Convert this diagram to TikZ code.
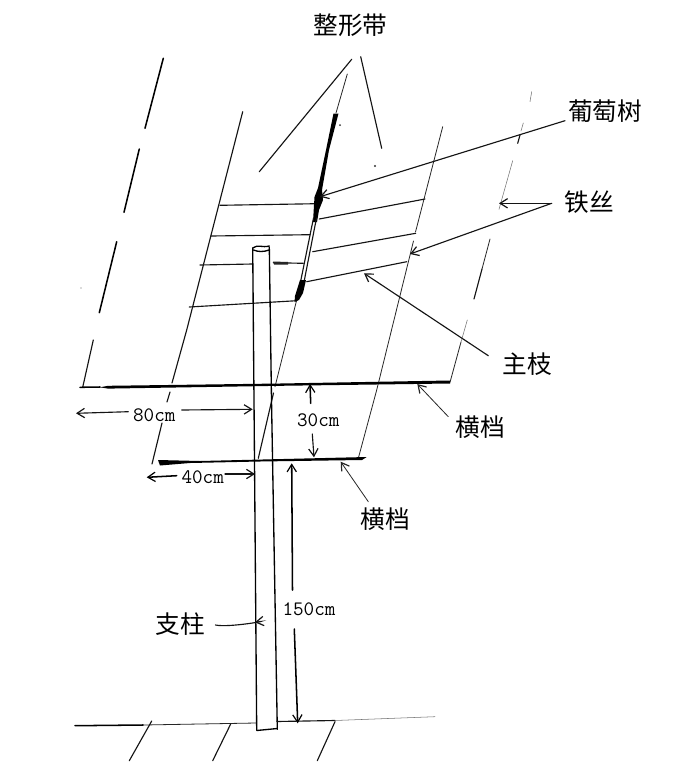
\documentclass[tikz,border=0pt]{standalone}
\usepackage{fontspec}
\newfontfamily\cjk{Noto Sans CJK SC}
\usetikzlibrary{arrows.meta}
\tikzset{
  x=0.75pt,y=-0.75pt,
  ink/.style={draw=black!92,line width=0.85pt,line cap=round},
  thinink/.style={draw=black!85,line width=0.6pt,line cap=round},
  faint/.style={draw=black!55,line width=0.4pt,line cap=round},
  heavy/.style={draw=black,line width=1.15pt,line cap=round},
  postline/.style={draw=black,line width=1pt,line cap=round},
  solid fill/.style={fill=black,draw=none},
  barb/.style={-{Straight Barb[length=5.6pt,width=7pt,line width=0.9pt]}},
  cnlabel/.style={inner sep=0pt,font=\cjk\fontsize{18.5pt}{20pt}\selectfont,text=black},
  dimlabel/.style={inner sep=0pt,font=\ttfamily\fontsize{15.4pt}{16pt}\selectfont,text=black}
}
\begin{document}
\begin{tikzpicture}
\useasboundingbox (0,0) rectangle (674,768);
\fill[white] (0,0) rectangle (674,768);

% labels
\node[cnlabel] (zxd) at (350.5,25) {整形带};
\node[cnlabel] (ptree) at (605,111) {葡萄树};
\node[cnlabel] (wire) at (589,202) {铁丝};
\node[cnlabel] (mainb) at (527,364) {主枝};
\node[cnlabel] (bar1) at (480,427) {横档};
\node[cnlabel] (bar2) at (385,519) {横档};
\node[cnlabel] (post) at (180.5,624) {支柱};
\node[dimlabel] (d80) at (154.3,415) {80cm};
\node[dimlabel] (d40) at (202.7,477) {40cm};
\node[dimlabel] (d30) at (318.3,420.7) {30cm};
\node[dimlabel] (d150) at (309,609) {150cm};

% trellis slanted wires
\draw[heavy] (163.3,58.3) -- (145,128.3);
\draw[heavy] (139.3,149) -- (124,212.3);
\draw[heavy] (116.7,241.7) -- (99.3,312.7);
\draw[ink] (93.3,340) -- (82.7,387.3);

\draw[ink] (242.7,111.7) -- (186.7,330) -- (172,383);
\draw[ink] (170,392) -- (167,402);
\draw[ink] (162,423) -- (152,464);

\draw[thinink] (296.7,300) -- (275,386.7);
\draw[ink] (273.5,393) -- (258.3,458.3);

\draw[thinink] (442.7,126.7) -- (415.5,232);
\draw[thinink] (413.5,241) -- (376.7,390) -- (358.3,458.3);

\draw[faint] (531.7,91.7) -- (530,101.7);
\draw[faint] (523.3,123) -- (521,131);
\draw[ink] (520,135) -- (517.7,143.3);
\draw[faint] (512.7,160.7) -- (499,209.3);
\draw[thinink] (490,239) -- (482,269);
\draw[ink] (482,269) -- (474,299);
\draw[faint] (467.3,320) -- (461,342);
\draw[thinink] (461,342) -- (450,382.3);

% cross wires, left
\draw[ink] (220,205.3) -- (316.7,203.7);
\draw[ink] (211,236) -- (310,234.7);
\draw[ink] (200,265) -- (252.7,264);
\draw[ink] (273.3,262.7) -- (303.3,263.3);
\draw[ink] (189.3,307) -- (296.7,300.7);
\fill[black!85] (273,261.5) -- (288,262) -- (288,264.5) -- (274,264.5) -- cycle;
% cross wires, right
\draw[ink] (319.3,219) -- (425,199);
\draw[ink] (312.7,251.7) -- (415.7,233.3);
\draw[ink] (306.7,281.7) -- (406.7,261.7);

% vine trunk
\draw[thinink] (347.3,74) -- (336,113);
\fill[solid fill] (333.5,113.5) -- (338.5,113.5) -- (329,150) -- (322,190) -- (323,200) -- (319,210) -- (317,222) -- (313,222) -- (314,205) -- (314.5,197) -- (318,188) -- (326,150) -- cycle;
\draw[ink] (316.5,218) -- (304,282);
\draw[ink] (313.5,218) -- (300.5,282);
\fill[solid fill] (300,280) -- (306,280) -- (303,293) -- (299,300) -- (294.5,302) -- (295,296) -- cycle;

% post
\draw[postline] (252.7,248) -- (254,400) -- (256.7,730);
\draw[postline] (269.3,247) -- (271.5,400) -- (277.3,729.3);
\draw[postline] (252.7,248) .. controls (258,244) and (262,248) .. (269.3,246);
\draw[postline] (253.5,250) .. controls (258,252) and (264,252) .. (269,250);
\draw[postline] (256.7,730.5) -- (277.3,728.5);

% cross arms
\draw[heavy] (80,387.3) -- (100,387);
\fill[solid fill] (100,387.3) -- (108,385.8) -- (280,383.5) -- (450,380.5) -- (450,383.5) -- (280,385.8) -- (108,388.6) -- cycle;
\fill[solid fill] (158,460) -- (200,461) -- (366.7,457) -- (362,460) -- (260,461.5) -- (190,463) -- (160,465.5) -- cycle;

% ground
\draw[heavy] (75,725.7) -- (143,725);
\draw[thinink] (143,725) -- (256,723);
\draw[ink] (277,721.5) -- (335,720.5);
\draw[faint] (335,720.5) -- (435,716.7);
\draw[ink] (151.7,721) -- (129.3,760.7);
\draw[ink] (230.7,724) -- (212.7,760.7);
\draw[ink] (335,721.7) -- (317.3,760.7);

% shaping-belt leaders
\coordinate (zl) at (259.3,171.7);
\coordinate (zr) at (381.7,148.3);
\draw[ink] (351.7,59.3) -- (zl);
\draw[ink] (360.7,56.7) -- (zr);

% leader arrows
\coordinate (tpt) at (320,196.7);
\coordinate (tw1) at (499,203.3);
\coordinate (tw2) at (410,254);
\coordinate (twb) at (551.7,203.3);
\coordinate (tmb) at (364,273.3);
\coordinate (smb) at (488.3,355.7);
\coordinate (sp) at (565,120.7);
\coordinate (tb1) at (417.3,384);
\coordinate (sb1) at (448.3,416.7);
\coordinate (tb2) at (340.7,461.7);
\coordinate (sb2) at (368.3,501.7);
\draw[ink,barb] (sp) -- (tpt);
\draw[ink,barb] (twb) -- (tw1);
\draw[ink,barb] (twb) -- (tw2);
\draw[ink,barb] (smb) -- (tmb);
\draw[thinink,barb] (sb1) -- (tb1);
\draw[thinink,barb] (sb2) -- (tb2);
\coordinate (tpo) at (255,622.3);
\draw[ink,barb] (post.east) ++(10,1) .. controls +(14,3) and +(20,-3) .. (tpo);

% dimensions
\coordinate (a80l) at (76,413.3);
\coordinate (a80r) at (252.7,409.3);
\coordinate (a40l) at (146.7,477.3);
\coordinate (a40r) at (255,474);
\coordinate (a30u) at (310,384);
\coordinate (a30d) at (314,457.3);
\coordinate (a150u) at (291.7,463.3);
\coordinate (a150d) at (297.7,723.3);
\draw[ink,barb] (128.3,411.7) -- (a80l);
\draw[ink,barb] (181.7,410) -- (a80r);
\draw[heavy,barb] (176.7,475.7) -- (a40l);
\draw[ink,barb] (225,474) -- (a40r);
\draw[heavy,barb] (310.7,403.3) -- (a30u);
\draw[ink,barb] (312.3,434) -- (a30d);
\draw[heavy,barb] (292.5,590) -- (a150u);
\draw[heavy,barb] (294.3,629) -- (a150d);

% specks
\fill[black!80] (375,166) circle (1.2);
\fill[black!80] (340,125) circle (1);
\fill[black!60] (81,288) circle (0.7);
\end{tikzpicture}
\end{document}
